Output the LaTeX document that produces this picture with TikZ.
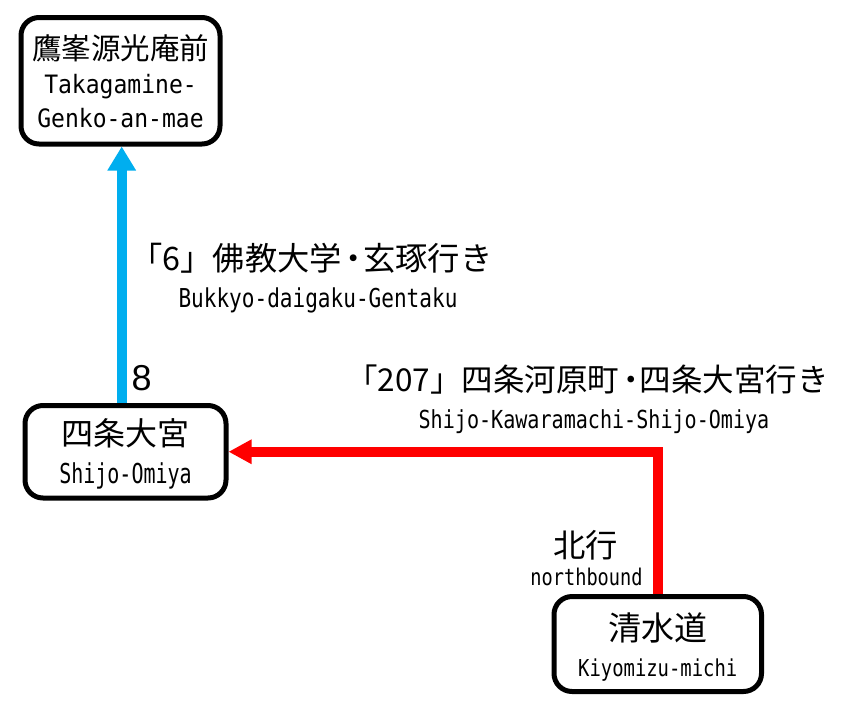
\documentclass[tikz,border=0pt]{standalone}
\usepackage{fontspec}
\usetikzlibrary{arrows.meta}
\newfontfamily\jp{Noto Sans CJK JP}
\newfontfamily\enA[FakeStretch=0.73]{DejaVu Sans Mono}
\newfontfamily\enB[FakeStretch=0.81]{DejaVu Sans Mono}
\newfontfamily\enC[FakeStretch=0.91]{DejaVu Sans Mono}
\newfontfamily\numfont{Liberation Sans}
\newcommand\jdot{\kern-4pt・\kern-7pt}
\definecolor{lineblue}{RGB}{0,174,239}
\definecolor{linered}{RGB}{255,0,0}
\tikzset{
  station/.style={draw=black, line width=5pt, rounded corners=18pt, fill=white,
    inner sep=0pt, align=center},
  bluearrow/.style={draw=lineblue, line width=10pt, -{Triangle[length=24pt,width=27pt]}},
  redarrow/.style={draw=linered, line width=10pt, line join=miter, -{Triangle[length=23pt,width=23pt]}},
  jplabel/.style={inner sep=0pt, font=\jp\fontsize{32.3}{36}\selectfont},
  enlabel/.style={inner sep=0pt, font=\enB\fontsize{24.8}{30}\selectfont},
}
\begin{document}
\begin{tikzpicture}[x=1pt,y=-1pt]
\useasboundingbox (0,0) rectangle (865,713);
\fill[white] (0,0) rectangle (865,713);

\node[station, minimum width=199pt, minimum height=126.5pt,
      font=\enC\fontsize{25.3}{34}\selectfont] (top) at (120.5,80.75)
  {{\jp\fontsize{29.5}{34}\selectfont 鷹峯源光庵前}\\Takagamine-\\Genko-an-mae};
\node[station, minimum width=201pt, minimum height=92.5pt,
      font=\enA\fontsize{27.4}{38}\selectfont] (shijo) at (125.5,451.75)
  {{\jp\fontsize{32}{38}\selectfont\rule{0pt}{1em}四条大宮}\\Shijo-Omiya};
\node[station, minimum width=207.5pt, minimum height=95pt,
      font=\enB\fontsize{23.3}{36}\selectfont] (kiyo) at (657.75,644)
  {{\jp\fontsize{33}{36}\selectfont\rule{0pt}{1.05em}清水道}\\Kiyomizu-michi};

\coordinate (bx) at (121.7,0);
\draw[bluearrow] (bx |- shijo.north) -- (bx |- top.south);
\draw[redarrow] (kiyo.north) -- (kiyo.north |- shijo.east) -- (shijo.east);

\node[jplabel, anchor=base west] (l6) at (130,270) {「6」佛教大学\jdot 玄琢行き};
\node[enlabel, font=\enB\fontsize{26}{30}\selectfont, anchor=base] (l6en) at (318,307.7) {Bukkyo-daigaku-Gentaku};
\node[jplabel, font=\jp\fontsize{31.5}{36}\selectfont, anchor=base west] (l207) at (346,391) {「207」四条河原町\jdot 四条大宮行き};
\node[enlabel, anchor=base] (l207en) at (594,428.3) {Shijo-Kawaramachi-Shijo-Omiya};
\node[inner sep=0pt, anchor=base, font=\numfont\fontsize{36}{40}\selectfont] (n8) at (141.7,390) {8};
\node[jplabel, anchor=base] (dir) at (585.5,557) {北行};
\node[enlabel, anchor=base, font=\enB\fontsize{23}{26}\selectfont] (diren) at (586.5,585) {northbound};
\end{tikzpicture}
\end{document}
